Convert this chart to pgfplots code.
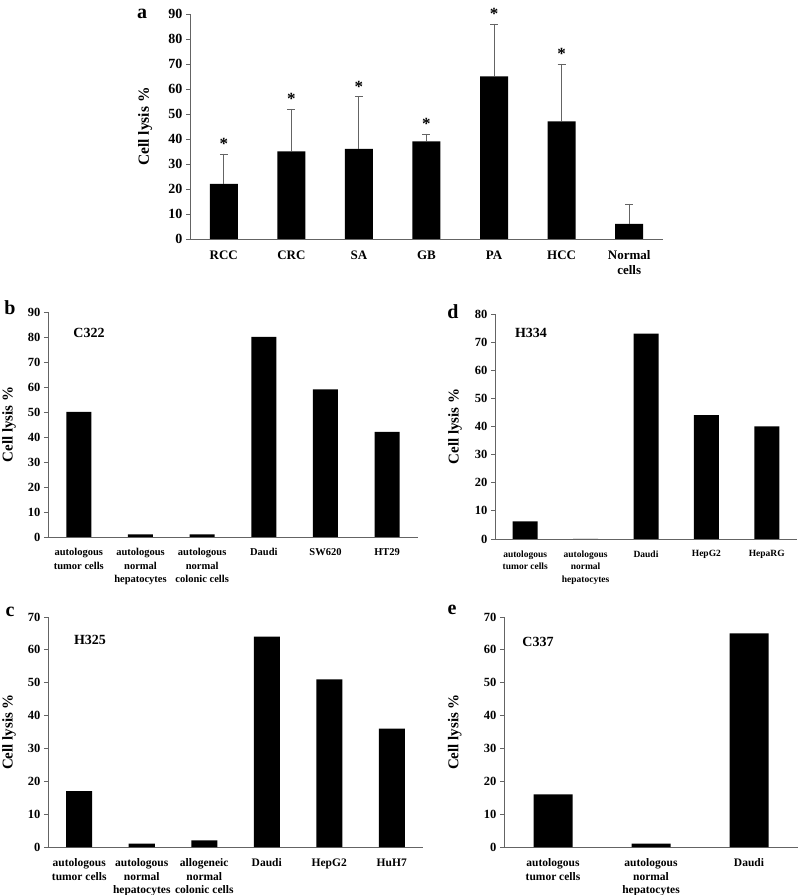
\documentclass[border=0pt]{standalone}
\usepackage{fontspec}
\setmainfont{Liberation Serif}
\usepackage{pgfplots}
\pgfplotsset{compat=1.18}
\definecolor{axgray}{RGB}{100,100,100}
\pgfplotsset{
  panel/.style={
    scale only axis, anchor=south west,
    axis x line=bottom, axis y line=left,
    axis line style={-, draw=axgray, line width=0.9pt},
    enlargelimits=false, clip=false,
    ymin=0,
    xtick style={draw=none},
    ytick style={draw=axgray, line width=0.8pt},
    tick align=outside, major tick length=4pt,
    /pgf/number format/assume math mode=true,
    ylabel={\textbf{Cell lysis \%}},
    every axis y label/.style={rotate=90, anchor=center},
    xticklabel style={align=center, yshift=-4pt},
  },
  bars/.style={ybar, fill=black, draw=none},
}
\begin{document}
\begin{tikzpicture}
\path[use as bounding box] (0pt,0pt) rectangle (798pt,895pt);

% ---------- panel a ----------
\begin{axis}[panel, at={(190pt,656pt)}, width=473pt, height=225pt,
  xmin=-0.5, xmax=6.5, ymax=90, ytick={0,10,...,90},
  xtick={0,...,6},
  xticklabels={RCC,CRC,SA,GB,PA,HCC,{Normal\\cells}},
  yticklabel style={font=\bfseries\fontsize{14}{14}\selectfont},
  xticklabel style={font=\bfseries\fontsize{13}{15}\selectfont},
  ylabel style={at={(axis description cs:-0.095,0.5)}, font=\bfseries\fontsize{15.5}{15.5}\selectfont},
]
\addplot[bars, bar width=28pt,
  error bars/.cd, y dir=plus, y explicit,
  error bar style={draw=axgray, line width=0.9pt},
  error mark options={rotate=90, draw=axgray, line width=0.9pt, mark size=4pt}]
  coordinates {(0,22) +- (0,12) (1,35) +- (0,17) (2,36) +- (0,21) (3,39) +- (0,3) (4,65) +- (0,21) (5,47) +- (0,23) (6,6) +- (0,8)};
\addplot[draw=none, mark=none, nodes near coords={*}, nodes near coords align={above},
  every node near coord/.append style={anchor=base, yshift=4pt, inner sep=0pt, font=\bfseries\fontsize{17}{17}\selectfont}]
  coordinates {(0,34) (1,52) (2,57) (3,42) (4,86) (5,70)};
\end{axis}

% ---------- panel b ----------
\begin{axis}[panel, at={(48pt,358pt)}, width=370pt, height=225pt,
  xmin=-0.5, xmax=5.5, ymax=90, ytick={0,10,...,90},
  xtick={0,...,5},
  xticklabels={{autologous\\tumor cells},{autologous\\normal\\hepatocytes},{autologous\\normal\\colonic cells},Daudi,SW620,HT29},
  yticklabel style={font=\bfseries\fontsize{12.5}{12.5}\selectfont},
  xticklabel style={font=\bfseries\fontsize{10.5}{13.5}\selectfont},
  ylabel style={at={(axis description cs:-0.105,0.5)}, font=\bfseries\fontsize{15}{15}\selectfont},
]
\addplot[bars, bar width=25pt] coordinates {(0,50) (1,1) (2,1) (3,80) (4,59) (5,42)};
\end{axis}

% ---------- panel d ----------
\begin{axis}[panel, at={(495pt,356pt)}, width=302pt, height=225pt,
  xmin=-0.5, xmax=4.5, ymax=80, ytick={0,10,...,80},
  xtick={0,...,4},
  xticklabels={{autologous\\tumor cells},{autologous\\normal\\hepatocytes},Daudi,HepG2,HepaRG},
  yticklabel style={font=\bfseries\fontsize{12.5}{12.5}\selectfont},
  xticklabel style={font=\bfseries\fontsize{9.5}{12.5}\selectfont},
  ylabel style={at={(axis description cs:-0.132,0.5)}, font=\bfseries\fontsize{15}{15}\selectfont},
]
\addplot[bars, bar width=25pt] coordinates {(0,6.3) (1,0) (2,73) (3,44) (4,40)};
\end{axis}

% ---------- panel c ----------
\begin{axis}[panel, at={(48pt,48pt)}, width=375pt, height=230pt,
  xmin=-0.5, xmax=5.5, ymax=70, ytick={0,10,...,70},
  xtick={0,...,5},
  xticklabels={{autologous\\tumor cells},{autologous\\normal\\hepatocytes},{allogeneic\\normal\\colonic cells},Daudi,HepG2,HuH7},
  yticklabel style={font=\bfseries\fontsize{12.5}{12.5}\selectfont},
  xticklabel style={font=\bfseries\fontsize{11.5}{13.5}\selectfont},
  ylabel style={at={(axis description cs:-0.104,0.5)}, font=\bfseries\fontsize{15}{15}\selectfont},
]
\addplot[bars, bar width=26pt] coordinates {(0,17) (1,1) (2,2) (3,64) (4,51) (5,36)};
\end{axis}

% ---------- panel e ----------
\begin{axis}[panel, at={(504pt,48pt)}, width=294pt, height=230pt,
  xmin=-0.5, xmax=2.5, ymax=70, ytick={0,10,...,70},
  xtick={0,...,2},
  xticklabels={{autologous\\tumor cells},{autologous\\normal\\hepatocytes},Daudi},
  yticklabel style={font=\bfseries\fontsize{12.5}{12.5}\selectfont},
  xticklabel style={font=\bfseries\fontsize{11.5}{13.5}\selectfont},
  ylabel style={at={(axis description cs:-0.167,0.5)}, font=\bfseries\fontsize{15}{15}\selectfont},
]
\addplot[bars, bar width=39pt] coordinates {(0,16) (1,1) (2,65)};
\end{axis}

% panel letters and inner labels
\node[font=\bfseries\fontsize{20}{20}\selectfont] at (142pt,881pt) {a};
\node[font=\bfseries\fontsize{20}{20}\selectfont] at (10pt,587pt) {b};
\node[font=\bfseries\fontsize{20}{20}\selectfont] at (453pt,583pt) {d};
\node[font=\bfseries\fontsize{20}{20}\selectfont] at (10pt,283pt) {c};
\node[font=\bfseries\fontsize{20}{20}\selectfont] at (452pt,285pt) {e};
\node[font=\bfseries\fontsize{14}{14}\selectfont] at (89pt,562pt) {C322};
\node[font=\bfseries\fontsize{14}{14}\selectfont] at (531pt,562pt) {H334};
\node[font=\bfseries\fontsize{14}{14}\selectfont] at (90pt,255pt) {H325};
\node[font=\bfseries\fontsize{14}{14}\selectfont] at (538pt,253pt) {C337};
\end{tikzpicture}
\end{document}
